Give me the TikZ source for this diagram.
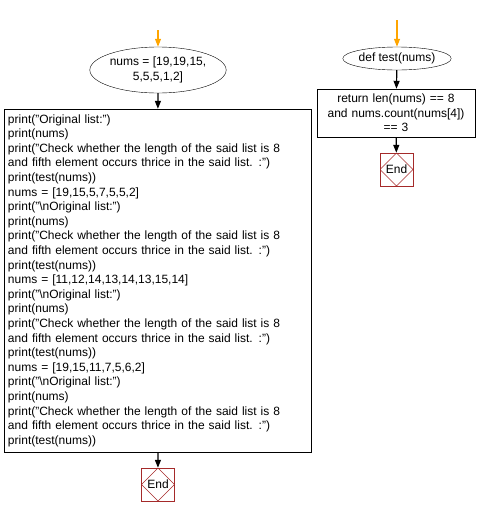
\documentclass[tikz,border=0pt]{standalone}
\usepackage{fontspec}
\setmainfont{Liberation Sans}
\usetikzlibrary{shapes.geometric,arrows.meta,positioning}

\definecolor{startorange}{HTML}{FFA500}
\definecolor{endred}{HTML}{A52A2A}

\tikzset{
	basic/.style   = {draw, thin, font=\fontsize{12}{14.6}\selectfont, inner sep=0pt},
	io/.style      = {basic, ellipse, align=center},
	code/.style    = {basic, rectangle, align=left, inner sep=4pt},
	ret/.style     = {basic, rectangle, align=center, inner sep=4pt},
	stop/.style    = {basic, rectangle, draw=endred, minimum size=33pt,
		path picture={\draw[endred, thin] (path picture bounding box.north)
			-- (path picture bounding box.east) -- (path picture bounding box.south)
			-- (path picture bounding box.west) -- cycle;}},
	flow/.style    = {-{Triangle[width=6pt,length=8pt]}, line width=1.2pt},
	entry/.style   = {flow, draw=startorange}
}

\begin{document}
\begin{tikzpicture}[x=1pt, y=-1pt]
\useasboundingbox (0,0) rectangle (477,517);

% main program
\coordinate (s1) at (158,30);
\node[io, minimum width=129pt, minimum height=46pt] (n1) at (158,70)
	{nums = [19,19,15,\\5,5,5,1,2]};
\node[code, text width=299pt, minimum height=343pt] (n2) at (157.5,280.5)
	{print("Original list:")\\
	print(nums)\\
	print("Check whether the length of the said list is 8\\
	and fifth element occurs thrice in the said list. :")\\
	print(test(nums))\\
	nums = [19,15,5,7,5,5,2]\\
	print("\textbackslash nOriginal list:")\\
	print(nums)\\
	print("Check whether the length of the said list is 8\\
	and fifth element occurs thrice in the said list. :")\\
	print(test(nums))\\
	nums = [11,12,14,13,14,13,15,14]\\
	print("\textbackslash nOriginal list:")\\
	print(nums)\\
	print("Check whether the length of the said list is 8\\
	and fifth element occurs thrice in the said list. :")\\
	print(test(nums))\\
	nums = [19,15,11,7,5,6,2]\\
	print("\textbackslash nOriginal list:")\\
	print(nums)\\
	print("Check whether the length of the said list is 8\\
	and fifth element occurs thrice in the said list. :")\\
	print(test(nums))};
\node[stop] (e1) at (158,484.5) {End};

% function test
\coordinate (s2) at (397,20);
\node[io, minimum width=99pt, minimum height=23pt] (f1) at (397,58.5) {def test(nums)};
\node[ret, text width=150pt, minimum height=48pt] (f2) at (396,113)
	{return len(nums) == 8\\and nums.count(nums[4])\\== 3};
\node[stop] (e2) at (396.5,169.5) {End};

% connectors
\draw[entry] (s1) -- (n1);
\draw[flow] (n1) -- (n2);
\draw[flow] (n2) -- (e1);
\draw[entry] (s2) -- (f1);
\draw[flow] (f1) -- (f2);
\draw[flow] (f2) -- (e2);

\end{tikzpicture}
\end{document}
